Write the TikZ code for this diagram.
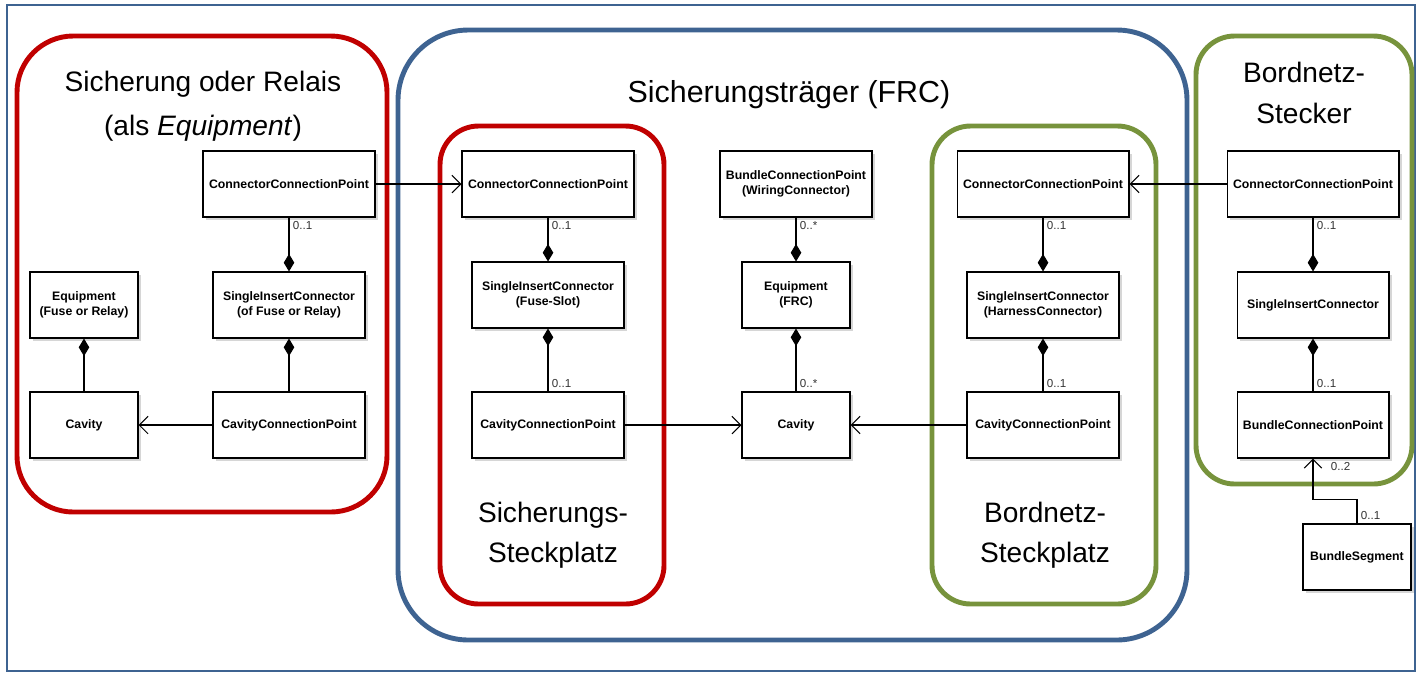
\documentclass[tikz,border=0pt]{standalone}
\usepackage{fontspec}
\setmainfont{Liberation Sans}
\usetikzlibrary{arrows.meta, shadows}

\definecolor{frcblue}{HTML}{3E6391}
\definecolor{fusered}{HTML}{C00000}
\definecolor{wiregreen}{HTML}{77933C}

\tikzset{
  cls/.style={draw, fill=white, line width=0.6pt, align=center,
    font=\fontsize{7}{8.6}\selectfont\bfseries, minimum height=1.32cm, inner sep=1pt,
    drop shadow={shadow xshift=1.6pt, shadow yshift=-1.6pt, fill=black!16, opacity=1}},
  clswide/.style={cls, minimum width=3.44cm},
  clsmid/.style={cls, minimum width=3.04cm},
  clsnarrow/.style={cls, minimum width=2.16cm},
  comp/.style={draw, line width=0.6pt, -{Diamond[length=10pt, width=6pt]}},
  assoc/.style={draw, line width=0.6pt, -{Straight Barb[length=5pt, width=10pt]}},
  mult/.style={font=\fontsize{6.6}{7}\selectfont, text=black!80, inner sep=2pt},
  title/.style={font=\fontsize{16}{19}\selectfont, align=center},
  frame/.style={line width=2.8pt}
}

\begin{document}
\begin{tikzpicture}[x=0.02cm, y=-0.02cm]
\useasboundingbox (0,0) rectangle (1420,681);
\draw[frcblue, line width=1pt] (7,5) rectangle (1415,671);

\draw[frame, fusered, rounded corners=32pt] (17,36) rectangle (387,512);
\draw[frame, frcblue, rounded corners=40pt] (398,30) rectangle (1187,640);
\draw[frame, fusered, rounded corners=22pt] (440,126) rectangle (664,604);
\draw[frame, wiregreen, rounded corners=22pt] (932,126) rectangle (1156,604);
\draw[frame, wiregreen, rounded corners=22pt] (1196,36) rectangle (1412,484);

\node[title] (tfuse) at (203,84) {Sicherung oder Relais};
\node[title] (tequip) at (203,128) {(als \textit{Equipment})};
\node[title, font=\fontsize{17.3}{20}\selectfont] (tfrc) at (789,95) {Sicherungsträger (FRC)};
\node[title] (tslot) at (553,535) {Sicherungs-\\[4pt]Steckplatz};
\node[title] (tharn) at (1045,535) {Bordnetz-\\[4pt]Steckplatz};
\node[title] (tplug) at (1304,93) {Bordnetz-\\[4pt]Stecker};

% Sicherung oder Relais
\node[clswide] (fccp) at (289,184) {ConnectorConnectionPoint};
\node[clsnarrow] (fequip) at (84,305) {Equipment\\(Fuse or Relay)};
\node[clsmid] (fsic) at (289,305) {SingleInsertConnector\\(of Fuse or Relay)};
\node[clsnarrow] (fcav) at (84,425) {Cavity};
\node[clsmid] (fcavcp) at (289,425) {CavityConnectionPoint};

% Sicherungs-Steckplatz
\node[clswide] (sccp) at (548,184) {ConnectorConnectionPoint};
\node[clsmid] (ssic) at (548,295) {SingleInsertConnector\\(Fuse-Slot)};
\node[clsmid] (scavcp) at (548,425) {CavityConnectionPoint};

% Sicherungstraeger
\node[clsmid] (wbcp) at (796,184) {BundleConnectionPoint\\(WiringConnector)};
\node[clsnarrow] (wequip) at (796,295) {Equipment\\(FRC)};
\node[clsnarrow] (wcav) at (796,425) {Cavity};

% Bordnetz-Steckplatz
\node[clswide] (hccp) at (1043,184) {ConnectorConnectionPoint};
\node[clsmid] (hsic) at (1043,305) {SingleInsertConnector\\(HarnessConnector)};
\node[clsmid] (hcavcp) at (1043,425) {CavityConnectionPoint};

% Bordnetz-Stecker
\node[clswide] (pccp) at (1313,184) {ConnectorConnectionPoint};
\node[clsmid] (psic) at (1313,305) {SingleInsertConnector};
\node[clsmid] (pbcp) at (1313,425) {BundleConnectionPoint};
\node[clsnarrow] (pseg) at (1357,557) {BundleSegment};

\draw[comp] (fccp) -- (fsic);
\draw[comp] (fcavcp) -- (fsic);
\draw[comp] (fcav) -- (fequip);
\draw[assoc] (fcavcp) -- (fcav);
\draw[assoc] (fccp) -- (sccp);
\node[mult, anchor=north west] at (fccp.south) {0..1};

\draw[comp] (sccp) -- (ssic);
\draw[comp] (scavcp) -- (ssic);
\draw[assoc] (scavcp) -- (wcav);
\node[mult, anchor=north west] at (sccp.south) {0..1};
\node[mult, anchor=south west] at (scavcp.north) {0..1};

\draw[comp] (wbcp) -- (wequip);
\draw[comp] (wcav) -- (wequip);
\node[mult, anchor=north west] at (wbcp.south) {0..*};
\node[mult, anchor=south west] at (wcav.north) {0..*};

\draw[assoc] (hcavcp) -- (wcav);
\draw[comp] (hccp) -- (hsic);
\draw[comp] (hcavcp) -- (hsic);
\node[mult, anchor=north west] at (hccp.south) {0..1};
\node[mult, anchor=south west] at (hcavcp.north) {0..1};

\draw[assoc] (pccp) -- (hccp);
\draw[comp] (pccp) -- (psic);
\draw[comp] (pbcp) -- (psic);
\node[mult, anchor=north west] at (pccp.south) {0..1};
\node[mult, anchor=south west] at (pbcp.north) {0..1};

\draw[assoc] (pseg.north) -- ++(0,-24) -| (pbcp.south);
\node[mult, anchor=north west, xshift=8pt] at (pbcp.south) {0..2};
\node[mult, anchor=south west] at (pseg.north) {0..1};
\end{tikzpicture}
\end{document}
